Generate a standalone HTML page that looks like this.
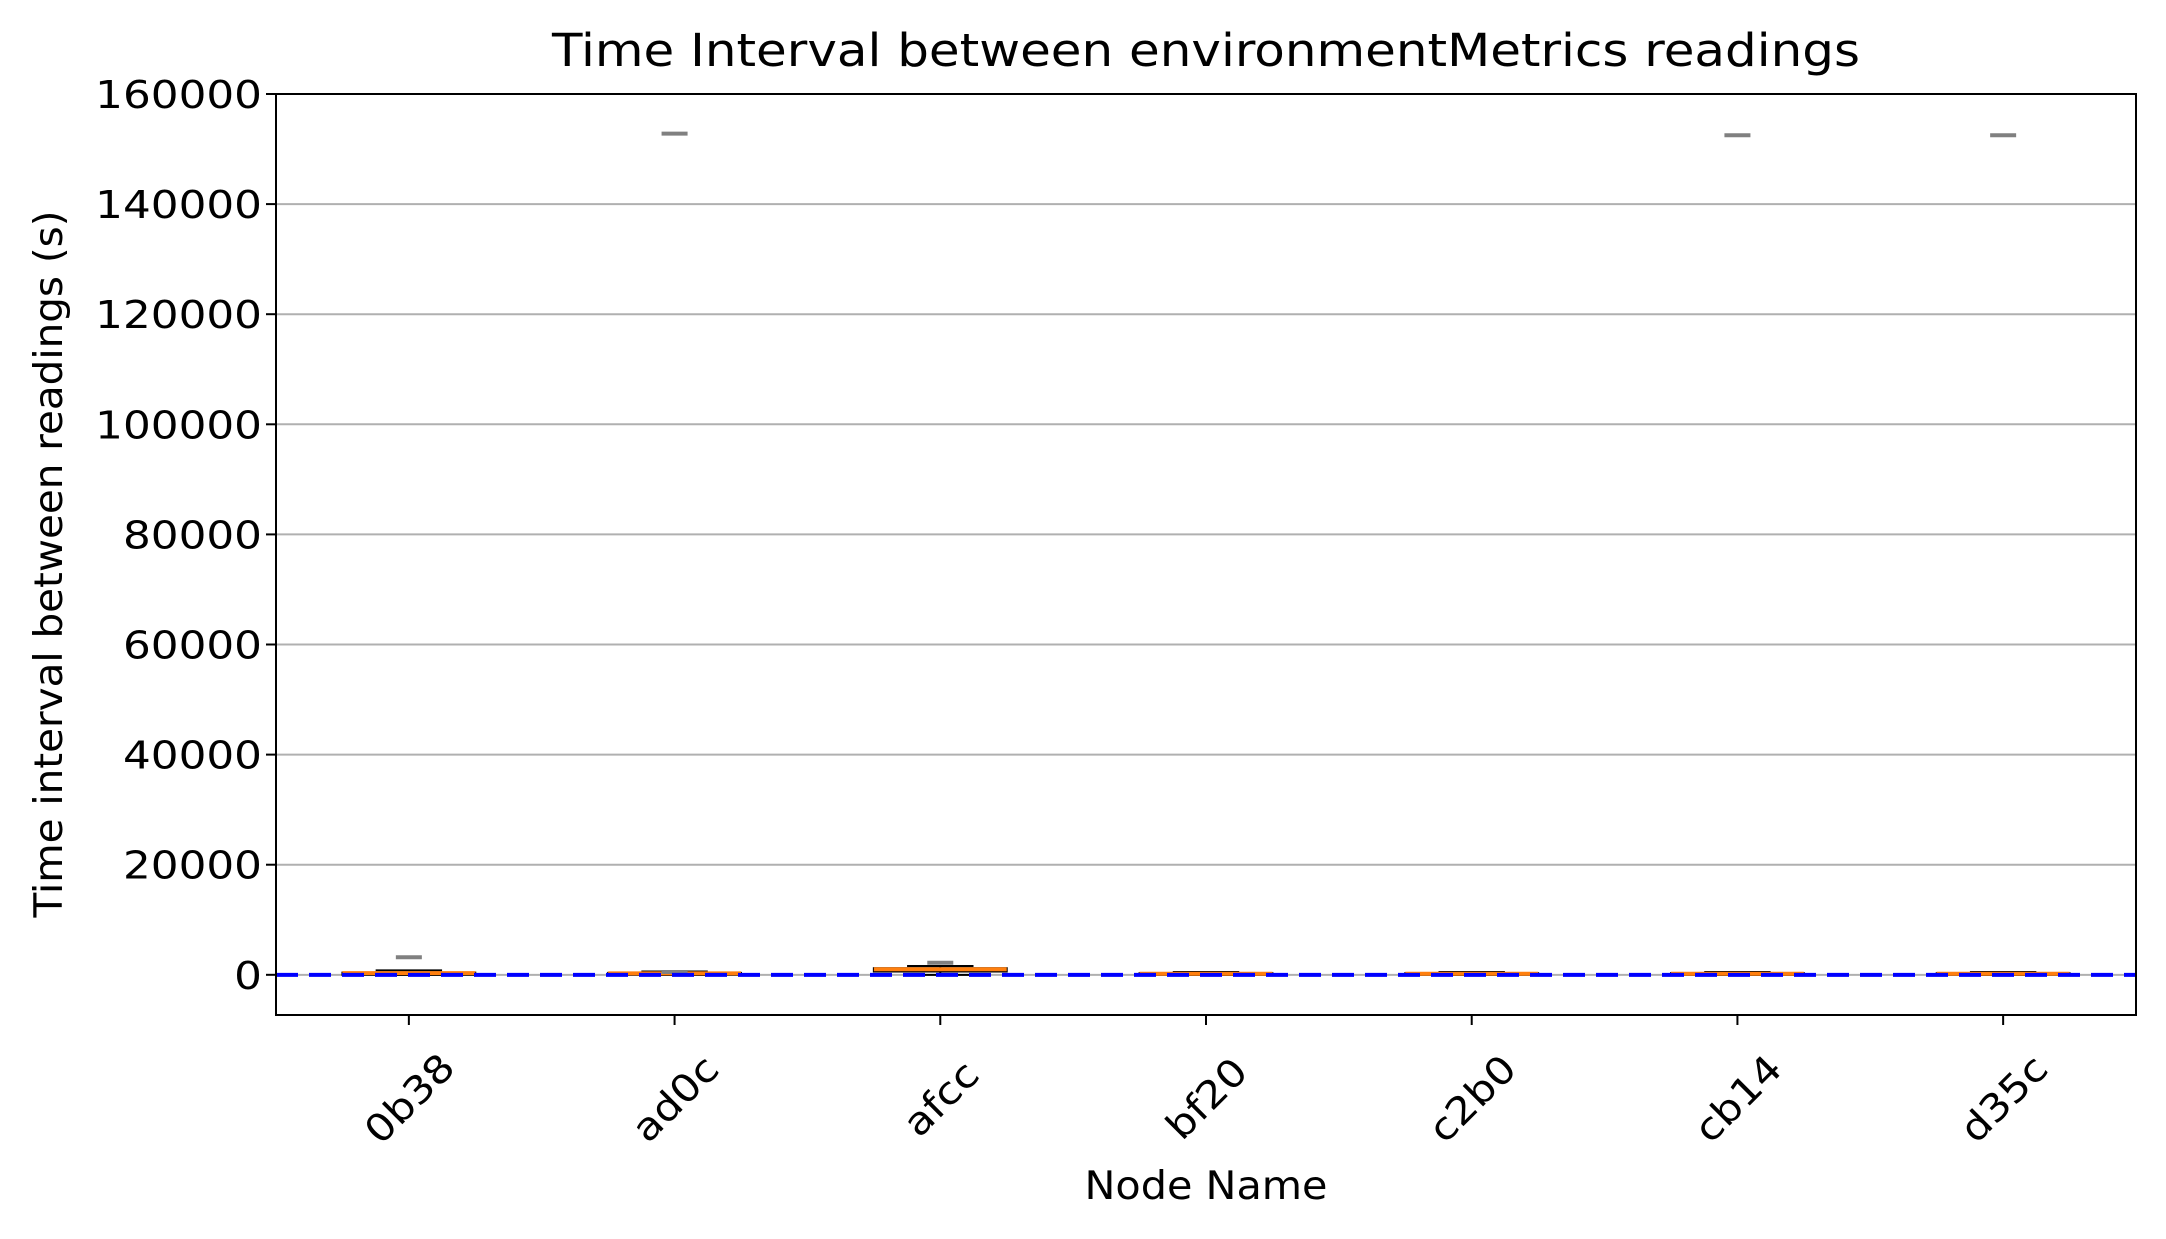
<!DOCTYPE html>
<html><head><meta charset="utf-8"><style>
html,body{margin:0;padding:0;background:#fff;}
svg{display:block;font-family:"DejaVu Sans","Liberation Sans",sans-serif;}
</style></head><body>
<svg id="chart" width="2166" height="1239" viewBox="0 0 2166 1239" xmlns="http://www.w3.org/2000/svg">
<rect width="2166" height="1239" fill="#fff"/>
<g id="grid"></g><g id="marks"></g><g id="axes"></g>
<text id="title" x="1206" y="66" font-size="45" text-anchor="middle">Time Interval between environmentMetrics readings</text>
<text id="xtitle" x="1206" y="1199" font-size="39" text-anchor="middle">Node Name</text>
<text id="ytitle" x="0" y="0" font-size="39" text-anchor="middle" transform="translate(62,564) rotate(-90)">Time interval between readings (s)</text>
</svg>
<script>
const categories=["0b38","ad0c","afcc","bf20","c2b0","cb14","d35c"];
const q1=[0,0,600,0,0,0,0];
const medians=[300,250,1000,200,200,200,200];
const q3=[400,350,1200,300,300,300,300];
const whiskLo=[0,0,0,0,0,0,0];
const whiskHi=[800,600,1600,500,500,500,500];
const fliers=[[3200],[152800,500],[2200],[],[],[152500],[152500]];
const yTicks=[0,20000,40000,60000,80000,100000,120000,140000,160000];
const refLine=0;
const NS="http://www.w3.org/2000/svg";
const L=276,R=2136,T=94,B=1015;
const yMin=-7300,yMax=160000;
function ys(v){return B-(v-yMin)/(yMax-yMin)*(B-T);}
function xs(i){return L+(i+0.5)/categories.length*(R-L);}
function mk(parent,tag,attrs){const e=document.createElementNS(NS,tag);for(const k in attrs)e.setAttribute(k,attrs[k]);parent.appendChild(e);return e;}
function stretch(el,f){const w=el.getComputedTextLength();el.setAttribute('textLength',w*f);el.setAttribute('lengthAdjust','spacingAndGlyphs');}
const grid=document.getElementById('grid'),marks=document.getElementById('marks'),axes=document.getElementById('axes');
yTicks.forEach(t=>{
  const y=ys(t);
  const g=mk(grid,'line',{x1:L,x2:R,y1:y,y2:y,stroke:'#b0b0b0','stroke-width':2});
  
  
  const tk=mk(axes,'line',{x1:L-10,x2:L,y1:y,y2:y,stroke:'#000','stroke-width':2});
  
  
  const tx=mk(axes,'text',{x:L-14,y:y+14,'font-size':38,'text-anchor':'end'});
  tx.textContent=String(t);
  
  
  stretch(tx,1.15);
});
const bw=(R-L)/categories.length*0.5;
categories.forEach((c,i)=>{
  const x=xs(i);
  const g=mk(marks,'g',{});
  
  
  mk(g,'line',{x1:x,x2:x,y1:ys(whiskLo[i]),y2:ys(q1[i]),stroke:'#000','stroke-width':2});
  mk(g,'line',{x1:x,x2:x,y1:ys(q3[i]),y2:ys(whiskHi[i]),stroke:'#000','stroke-width':2});
  mk(g,'line',{x1:x-bw/4,x2:x+bw/4,y1:ys(whiskLo[i]),y2:ys(whiskLo[i]),stroke:'#000','stroke-width':2});
  mk(g,'line',{x1:x-bw/4,x2:x+bw/4,y1:ys(whiskHi[i]),y2:ys(whiskHi[i]),stroke:'#000','stroke-width':2});
  mk(g,'rect',{x:x-bw/2,y:ys(q3[i]),width:bw,height:Math.max(1,ys(q1[i])-ys(q3[i])),fill:'none',stroke:'#000','stroke-width':2});
  mk(g,'line',{x1:x-bw/2,x2:x+bw/2,y1:ys(medians[i]),y2:ys(medians[i]),stroke:'#ff7f0e','stroke-width':4});
  fliers[i].forEach(v=>{
    const f=mk(g,'line',{x1:x-13,x2:x+13,y1:ys(v),y2:ys(v),stroke:'#808080','stroke-width':4});
    
    
  });
  const tk=mk(axes,'line',{x1:x,x2:x,y1:B,y2:B+10,stroke:'#000','stroke-width':2});
  
  
  const tx=mk(axes,'text',{x:0,y:14,'font-size':38,'text-anchor':'middle',transform:`translate(${x},1098) rotate(-45)`});
  tx.textContent=c;
  
  
  stretch(tx,1.12);
});
const rl=mk(marks,'line',{x1:L,x2:R,y1:ys(refLine),y2:ys(refLine),stroke:'#0000ff','stroke-width':4,'stroke-dasharray':'22,11'});


const fr=mk(axes,'rect',{x:L,y:T,width:R-L,height:B-T,fill:'none',stroke:'#000','stroke-width':2});


function fit(id,target){const el=document.getElementById(id);el.setAttribute('textLength',target);el.setAttribute('lengthAdjust','spacingAndGlyphs');}
fit('title',1308);
fit('xtitle',243);
fit('ytitle',707);
</script>
</body></html>
